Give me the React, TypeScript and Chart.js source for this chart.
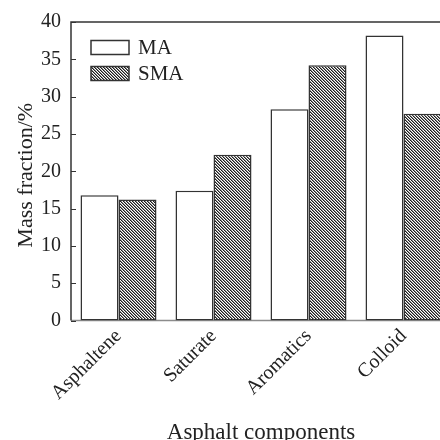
import { useEffect, useRef } from "react";
import { Chart, registerables } from "chart.js";

Chart.register(...registerables);

// Mass fraction (%) of each asphalt component
const categories = ["Asphaltene", "Saturate", "Aromatics", "Colloid"];
const seriesNames = ["MA", "SMA"];
const maValues = [16.8, 17.4, 28.3, 38.2];
const smaValues = [16.2, 22.2, 34.2, 27.7];
const yMin = 0;
const yMax = 40;
const yStep = 5;
const xTitle = "Asphalt components";
const yTitle = "Mass fraction/%";

const FONT = "'Liberation Serif', 'DejaVu Serif', 'Times New Roman', serif";
const INK = "#222";
const EDGE = "#333";

// Dense "\" hatching used for the SMA bars
function makeHatch(ctx: CanvasRenderingContext2D): CanvasPattern | string {
  const tile = document.createElement("canvas");
  tile.width = 3;
  tile.height = 3;
  const t = tile.getContext("2d");
  if (!t) return "#777";
  t.fillStyle = "#fff";
  t.fillRect(0, 0, 3, 3);
  for (let i = 0; i < 3; i++) {
    t.fillStyle = "#1c1c1c";
    t.fillRect(i, i, 1, 1);
    t.fillStyle = "#8a8a8a";
    t.fillRect((i + 1) % 3, i, 1, 1);
  }
  return ctx.createPattern(tile, "repeat") || "#777";
}

// Plot frame plus short inward ticks on the value axis
const framePlugin = {
  id: "frame",
  beforeDatasetsDraw(chart: any) {
    const { ctx, chartArea: a, scales } = chart;
    ctx.save();
    ctx.lineWidth = 1.5;
    ctx.strokeStyle = "#8c8c8c";
    ctx.beginPath();
    ctx.moveTo(a.left, a.bottom);
    ctx.lineTo(a.right, a.bottom);
    ctx.stroke();
    ctx.strokeStyle = EDGE;
    ctx.beginPath();
    ctx.moveTo(a.left, a.bottom);
    ctx.lineTo(a.left, a.top);
    ctx.lineTo(a.right, a.top);
    ctx.lineTo(a.right, a.bottom);
    ctx.stroke();
    const y = scales.y;
    ctx.lineWidth = 1;
    y.ticks.forEach((tk: any) => {
      const py = Math.round(y.getPixelForValue(tk.value)) + 0.5;
      ctx.beginPath();
      ctx.moveTo(a.left, py);
      ctx.lineTo(a.left + 5, py);
      ctx.stroke();
    });
    ctx.restore();
  },
};

// Axis titles
const axisTitles = {
  id: "axisTitles",
  afterDraw(chart: any) {
    const { ctx, chartArea: a } = chart;
    ctx.save();
    ctx.fillStyle = INK;
    ctx.textAlign = "center";
    ctx.textBaseline = "alphabetic";
    ctx.font = `23px ${FONT}`;
    ctx.fillText(xTitle, (a.left + a.right) / 2, 439);
    ctx.translate(32, (a.top + a.bottom) / 2 + 4);
    ctx.rotate(-Math.PI / 2);
    ctx.font = `22px ${FONT}`;
    ctx.fillText(yTitle, 0, 0);
    ctx.restore();
  },
};

// Legend drawn inside the plot, top-left, stacked vertically
const insideLegend = {
  id: "insideLegend",
  afterDraw(chart: any) {
    const { ctx, chartArea: a } = chart;
    ctx.save();
    ctx.font = `21px ${FONT}`;
    ctx.textBaseline = "middle";
    ctx.textAlign = "left";
    chart.data.datasets.forEach((ds: any, i: number) => {
      const bx = a.left + 20;
      const by = a.top + 18.5 + i * 26;
      const bw = 38;
      const bh = 14;
      ctx.fillStyle = ds.backgroundColor;
      ctx.fillRect(bx, by, bw, bh);
      ctx.strokeStyle = EDGE;
      ctx.lineWidth = 1.5;
      ctx.strokeRect(bx, by, bw, bh);
      ctx.fillStyle = INK;
      ctx.fillText(ds.label, bx + bw + 9, by + bh / 2 + 1);
    });
    ctx.restore();
  },
};

export default function App() {
  const ref = useRef<HTMLCanvasElement | null>(null);

  useEffect(() => {
    const canvas = ref.current;
    if (!canvas) return;
    const ctx = canvas.getContext("2d");
    if (!ctx) return;
    document.documentElement.style.overflow = "hidden";
    document.body.style.overflow = "hidden";

    const hatch = makeHatch(ctx);

    const chart = new Chart(ctx, {
      type: "bar",
      data: {
        labels: categories,
        datasets: [
          { label: seriesNames[0], data: maValues, backgroundColor: "#ffffff", borderColor: EDGE, borderWidth: 1.5, borderSkipped: false },
          { label: seriesNames[1], data: smaValues, backgroundColor: hatch as any, borderColor: EDGE, borderWidth: 1.5, borderSkipped: false },
        ],
      },
      options: {
        responsive: false,
        animation: false,
        devicePixelRatio: 1,
        layout: { padding: { left: 0, right: 0, top: 20.5, bottom: 0 } },
        datasets: { bar: { categoryPercentage: 0.8, barPercentage: 1.0 } },
        plugins: { legend: { display: false }, tooltip: { enabled: false } },
        scales: {
          x: {
            offset: true,
            grid: { display: false, drawTicks: false },
            border: { display: false },
            ticks: { color: INK, font: { family: FONT, size: 20 }, minRotation: 45, maxRotation: 45, padding: 4 },
            afterFit: (scale: any) => { scale.height = 119.5; },
          },
          y: {
            min: yMin,
            max: yMax,
            grid: { display: false, drawTicks: false },
            border: { display: false },
            ticks: { stepSize: yStep, color: INK, font: { family: FONT, size: 20 }, padding: 10 },
            afterFit: (scale: any) => { scale.width = 71; },
          },
        },
      },
      plugins: [framePlugin, axisTitles, insideLegend],
    });

    return () => chart.destroy();
  }, []);

  return (
    <div style={{ position: "fixed", left: 0, top: 0, width: 451, height: 440 }}>
      <canvas ref={ref} width={451} height={440} style={{ display: "block" }} />
    </div>
  );
}
